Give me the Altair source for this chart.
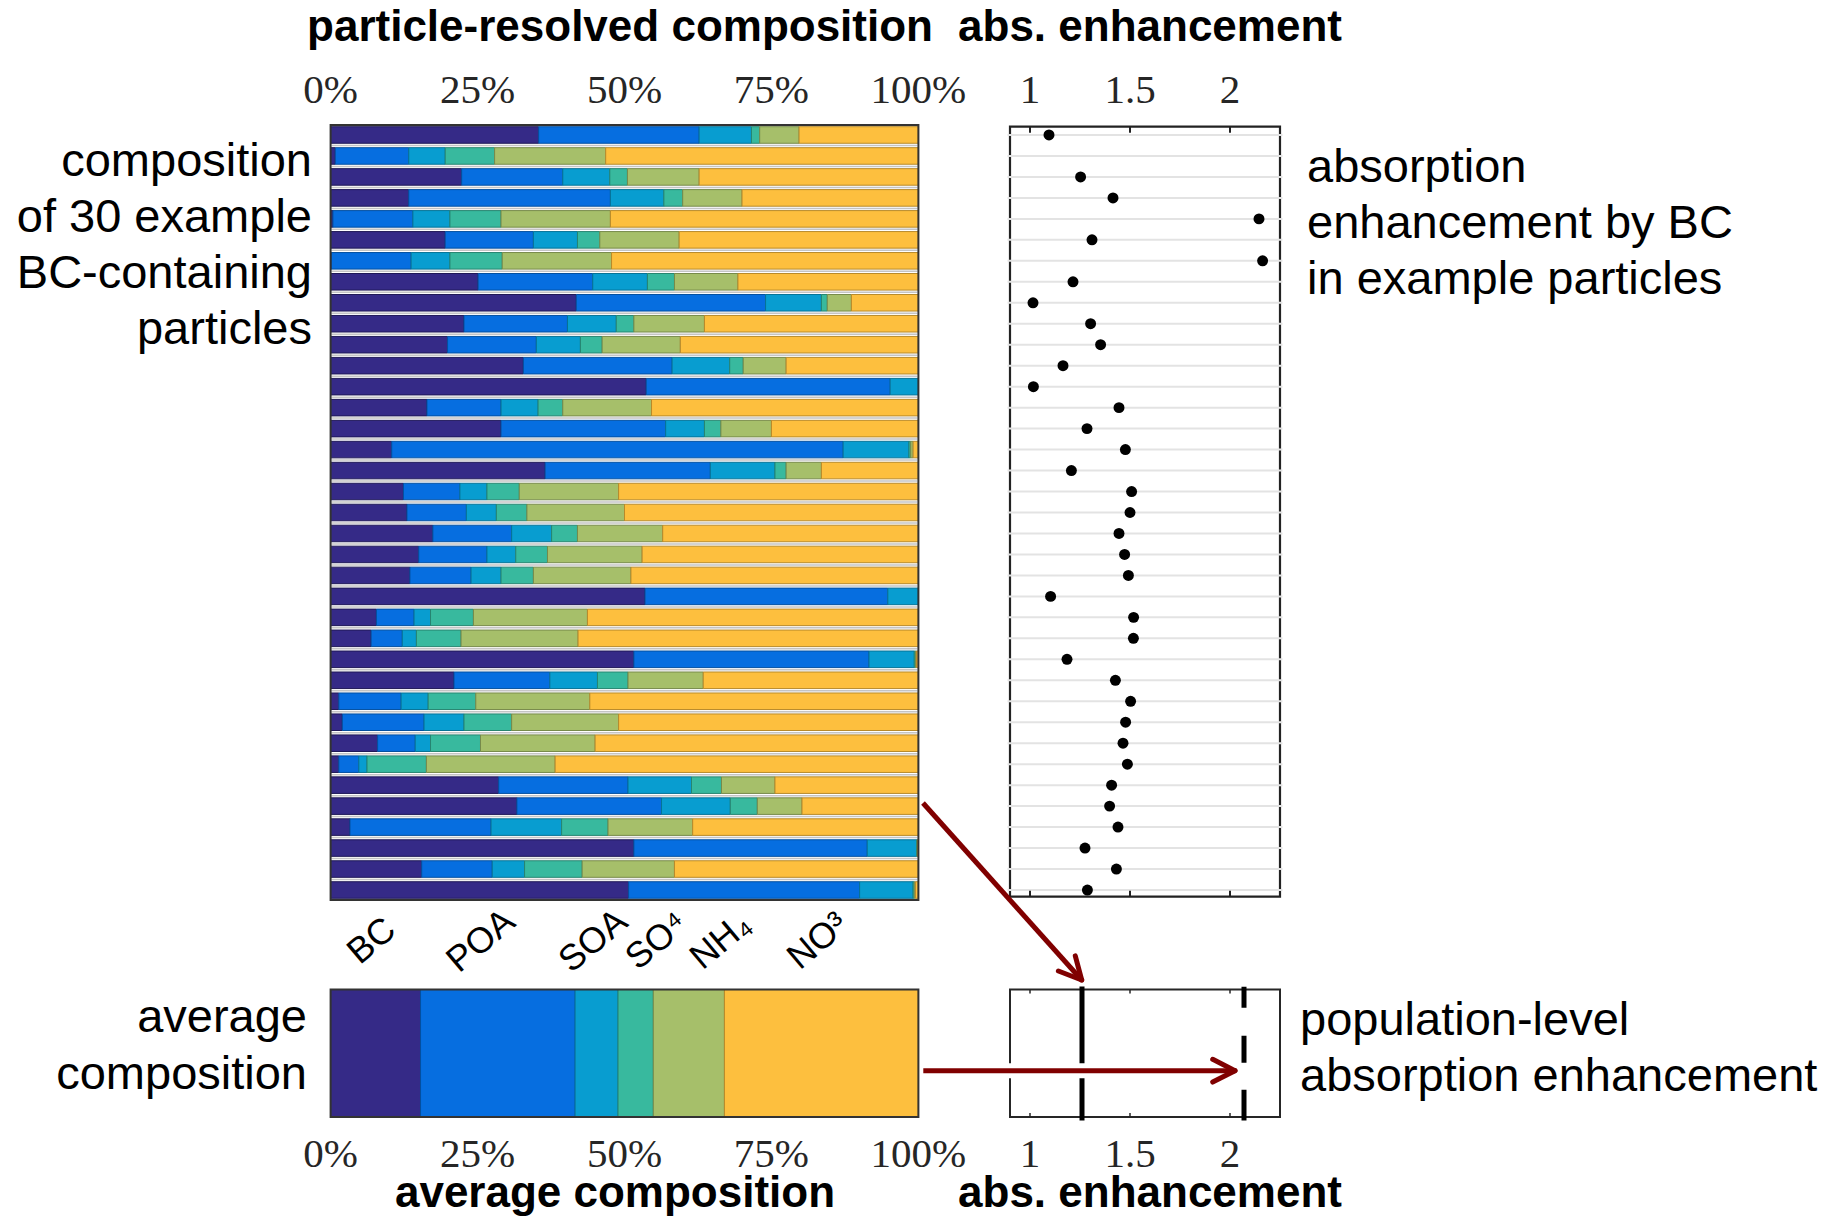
import math
import altair as alt
import pandas as pd

# ---------------- data ----------------
components = ["BC", "POA", "SOA", "SO4", "NH4", "NO3"]
component_labels = ["BC", "POA", "SOA", "SO\u2074", "NH\u2084", "NO\u00b3"]
fill_colors = ["#352a87", "#066ee0", "#089dd0", "#38b99e", "#a6bf6a", "#fdbf3e"]
edge_colors = ["#1f1857", "#0450a0", "#067396", "#278570", "#778a4a", "#b88a2a"]

particle_ids = list(range(1, 38))
bc = [0.354, 0.008, 0.223, 0.133, 0.004, 0.195, 0.001, 0.251, 0.418, 0.227,
      0.199, 0.328, 0.537, 0.164, 0.290, 0.104, 0.365, 0.124, 0.130, 0.174,
      0.150, 0.135, 0.535, 0.078, 0.069, 0.516, 0.210, 0.014, 0.020, 0.080,
      0.014, 0.286, 0.317, 0.033, 0.516, 0.155, 0.507]
poa = [0.273, 0.125, 0.172, 0.343, 0.136, 0.150, 0.136, 0.195, 0.322, 0.176,
       0.151, 0.253, 0.415, 0.126, 0.280, 0.768, 0.281, 0.096, 0.101, 0.134,
       0.116, 0.104, 0.413, 0.064, 0.053, 0.400, 0.163, 0.106, 0.139, 0.064,
       0.034, 0.220, 0.246, 0.240, 0.397, 0.120, 0.393]
soa = [0.089, 0.062, 0.080, 0.091, 0.063, 0.075, 0.066, 0.093, 0.095, 0.083,
       0.075, 0.098, 0.048, 0.063, 0.066, 0.112, 0.110, 0.046, 0.051, 0.068,
       0.049, 0.051, 0.052, 0.028, 0.024, 0.077, 0.081, 0.046, 0.068, 0.026,
       0.014, 0.108, 0.117, 0.120, 0.084, 0.055, 0.091]
so4 = [0.014, 0.084, 0.030, 0.032, 0.087, 0.038, 0.089, 0.046, 0.010, 0.030,
       0.037, 0.023, 0.0, 0.042, 0.028, 0.003, 0.019, 0.055, 0.052, 0.044,
       0.054, 0.055, 0.0, 0.073, 0.076, 0.002, 0.052, 0.081, 0.081, 0.085,
       0.101, 0.051, 0.046, 0.079, 0.001, 0.098, 0.002]
nh4 = [0.067, 0.189, 0.122, 0.101, 0.186, 0.135, 0.186, 0.108, 0.041, 0.120,
       0.133, 0.073, 0.0, 0.151, 0.086, 0.004, 0.060, 0.169, 0.166, 0.145,
       0.161, 0.166, 0.0, 0.194, 0.199, 0.002, 0.128, 0.194, 0.182, 0.195,
       0.219, 0.091, 0.076, 0.144, 0.001, 0.157, 0.002]
no3 = [0.203, 0.532, 0.373, 0.300, 0.524, 0.407, 0.522, 0.307, 0.114, 0.364,
       0.405, 0.225, 0.0, 0.454, 0.250, 0.009, 0.165, 0.510, 0.500, 0.435,
       0.470, 0.489, 0.0, 0.563, 0.579, 0.003, 0.366, 0.559, 0.510, 0.550,
       0.618, 0.244, 0.198, 0.384, 0.001, 0.415, 0.005]

avg_composition = [0.153, 0.263, 0.073, 0.060, 0.121, 0.330]

abs_enhancement = [1.095, None, 1.253, 1.415, 2.145, 1.310, 2.163, 1.215, 1.015, 1.303,
                   1.353, 1.165, 1.017, 1.445, 1.285, 1.477, 1.207, 1.508, 1.500, 1.445,
                   1.473, 1.492, 1.103, 1.518, 1.517, 1.185, 1.427, 1.503, 1.478, 1.465,
                   1.487, 1.408, 1.398, 1.440, 1.275, 1.432, 1.287]
pop_abs_particle_resolved = 1.26
pop_abs_average = 2.07

pct_ticks = [0, 0.25, 0.5, 0.75, 1.0]
pct_labels = ["0%", "25%", "50%", "75%", "100%"]
abs_ticks = [1.0, 1.5, 2.0]
abs_labels = ["1", "1.5", "2"]

# ---------------- layout ----------------
W, H = 1816, 1208
PX_BAR = [322.6, 910.4]
PX_ABS = [1002.0, 1272.0]
PY_ROWS = [116.5, 892.5]
BAR_FRAME_Y = [117.0, 892.0]
DOT_FRAME_Y = [118.7, 888.7]
AVG_Y = [981.5, 1109.0]
label_x = [0.070, 0.256, 0.447, 0.555, 0.664, 0.829]

SANS = "Liberation Sans, Arial, DejaVu Sans"
SERIF = "Liberation Serif, DejaVu Serif"
FRAME = "#333333"

x_bar = alt.Scale(domain=[0, 1], range=PX_BAR, nice=False, zero=False)
x_abs = alt.Scale(domain=[0.9, 2.25], range=PX_ABS, nice=False, zero=False)
y_row = alt.Scale(domain=[0.5, 37.5], range=PY_ROWS, nice=False, zero=False)
fill_scale = alt.Scale(domain=components, range=fill_colors)
edge_scale = alt.Scale(domain=components, range=edge_colors)

series = dict(zip(components, [bc, poa, soa, so4, nh4, no3]))
seg_rows = []
for i, pid in enumerate(particle_ids):
    for j, c in enumerate(components):
        v = series[c][i]
        if v > 0:
            seg_rows.append({"pid": pid, "comp": c, "order": j, "frac": v})
seg_df = pd.DataFrame(seg_rows)

avg_df = pd.DataFrame({"comp": components, "order": list(range(6)), "frac": avg_composition})
dot_df = pd.DataFrame({"pid": particle_ids, "abs": abs_enhancement}).dropna()
grid_df = pd.DataFrame({"pid": particle_ids})
sep_df = pd.DataFrame({"b": [p + 0.5 for p in particle_ids[:-1]]})
pct_df = pd.DataFrame({"v": pct_ticks, "lab": pct_labels})
abs_df = pd.DataFrame({"v": abs_ticks, "lab": abs_labels})
complab_df = pd.DataFrame({"x": label_x, "lab": component_labels})
pop_df = pd.DataFrame({"v": [pop_abs_particle_resolved]})
pop2_df = pd.DataFrame({"v": [pop_abs_average]})
base = pd.DataFrame({"k": [0]})


def frame(x0, x1, y0, y1, color=FRAME, w=2):
    return alt.Chart(base).mark_rect(fillOpacity=0, stroke=color, strokeWidth=w).encode(
        x=alt.value(x0), x2=alt.value(x1), y=alt.value(y0), y2=alt.value(y1))


def seg(x1, y1, x2, y2, color, w, cap="butt"):
    return alt.Chart(base).mark_rule(color=color, strokeWidth=w, strokeCap=cap).encode(
        x=alt.value(x1), y=alt.value(y1), x2=alt.value(x2), y2=alt.value(y2))


def arrow(x1, y1, x2, y2, color="#800000", w=5, head=25, half=27):
    L = math.hypot(x2 - x1, y2 - y1)
    bx, by = -(x2 - x1) / L, -(y2 - y1) / L
    out = [seg(x1, y1, x2, y2, color, w, "butt")]
    for s in (1, -1):
        a = math.radians(half) * s
        rx = bx * math.cos(a) - by * math.sin(a)
        ry = bx * math.sin(a) + by * math.cos(a)
        out.append(seg(x2, y2, x2 + head * rx, y2 + head * ry, color, w, "round"))
    return out


def text(x, y, t, size, align="left", weight="normal", font=SANS, line=None, color="black"):
    kw = dict(align=align, baseline="alphabetic", fontSize=size, font=font,
              fontWeight=weight, color=color)
    if line is not None:
        kw["lineHeight"] = line
    return alt.Chart(base).mark_text(**kw).encode(
        x=alt.value(x), y=alt.value(y), text=alt.value(t))


layers = []

# particle-resolved composition bars
layers.append(
    alt.Chart(seg_df).transform_stack(
        stack="frac", groupby=["pid"], sort=[alt.SortField("order")], as_=["x0", "x1"]
    ).transform_calculate(y0="datum.pid - 0.395", y1="datum.pid + 0.395")
    .mark_rect(strokeWidth=1)
    .encode(
        x=alt.X("x0:Q", scale=x_bar, axis=None), x2="x1:Q",
        y=alt.Y("y0:Q", scale=y_row, axis=None), y2="y1:Q",
        fill=alt.Fill("comp:N", scale=fill_scale, legend=None),
        stroke=alt.Stroke("comp:N", scale=edge_scale, legend=None),
    )
)
layers.append(
    alt.Chart(sep_df).mark_rule(color="#c4c4c4", strokeWidth=1.5).encode(
        y=alt.Y("b:Q", scale=y_row, axis=None),
        x=alt.value(PX_BAR[0] + 1), x2=alt.value(PX_BAR[1] - 1))
)
layers.append(frame(PX_BAR[0], PX_BAR[1], BAR_FRAME_Y[0], BAR_FRAME_Y[1]))

# top tick labels
layers.append(alt.Chart(pct_df).mark_text(font=SERIF, fontSize=41, color="#262626",
                                          baseline="alphabetic").encode(
    x=alt.X("v:Q", scale=x_bar, axis=None), y=alt.value(95), text="lab:N"))
layers.append(alt.Chart(abs_df).mark_text(font=SERIF, fontSize=41, color="#262626",
                                          baseline="alphabetic").encode(
    x=alt.X("v:Q", scale=x_abs, axis=None), y=alt.value(95), text="lab:N"))

# absorption enhancement dots
layers.append(frame(PX_ABS[0], PX_ABS[1], DOT_FRAME_Y[0], DOT_FRAME_Y[1], "#222222", 2.2))
layers.append(alt.Chart(grid_df).mark_rule(color="#e3e3e3", strokeWidth=2).encode(
    y=alt.Y("pid:Q", scale=y_row, axis=None),
    x=alt.value(PX_ABS[0] - 2.5), x2=alt.value(PX_ABS[1] + 2.5)))
layers.append(alt.Chart(abs_df).mark_rule(color="#222222", strokeWidth=2).encode(
    x=alt.X("v:Q", scale=x_abs, axis=None),
    y=alt.value(DOT_FRAME_Y[0]), y2=alt.value(DOT_FRAME_Y[0] + 6)))
layers.append(alt.Chart(abs_df).mark_rule(color="#222222", strokeWidth=2).encode(
    x=alt.X("v:Q", scale=x_abs, axis=None),
    y=alt.value(DOT_FRAME_Y[1] - 6), y2=alt.value(DOT_FRAME_Y[1])))
layers.append(alt.Chart(dot_df).mark_circle(size=120, color="black", opacity=1).encode(
    x=alt.X("abs:Q", scale=x_abs, axis=None),
    y=alt.Y("pid:Q", scale=y_row, axis=None)))

# component labels
layers.append(alt.Chart(complab_df).mark_text(font=SANS, fontSize=36, angle=320,
                                              align="center", baseline="middle",
                                              color="black").encode(
    x=alt.X("x:Q", scale=x_bar, axis=None), y=alt.value(933), text="lab:N"))

# average composition bar
layers.append(
    alt.Chart(avg_df).transform_stack(
        stack="frac", groupby=[], sort=[alt.SortField("order")], as_=["x0", "x1"]
    ).mark_rect(strokeWidth=1)
    .encode(
        x=alt.X("x0:Q", scale=x_bar, axis=None), x2="x1:Q",
        y=alt.value(AVG_Y[0]), y2=alt.value(AVG_Y[1]),
        fill=alt.Fill("comp:N", scale=fill_scale, legend=None),
        stroke=alt.Stroke("comp:N", scale=edge_scale, legend=None),
    )
)
layers.append(frame(PX_BAR[0], PX_BAR[1], AVG_Y[0], AVG_Y[1]))

# population-level abs. enhancement panel
layers.append(frame(PX_ABS[0], PX_ABS[1], AVG_Y[0], AVG_Y[1], "#262626", 2))
layers.append(alt.Chart(abs_df).mark_rule(color="#262626", strokeWidth=1.5).encode(
    x=alt.X("v:Q", scale=x_abs, axis=None),
    y=alt.value(AVG_Y[0]), y2=alt.value(AVG_Y[0] + 4)))
layers.append(alt.Chart(abs_df).mark_rule(color="#262626", strokeWidth=1.5).encode(
    x=alt.X("v:Q", scale=x_abs, axis=None),
    y=alt.value(AVG_Y[1] - 4), y2=alt.value(AVG_Y[1])))
layers.append(alt.Chart(pop_df).mark_rule(color="black", strokeWidth=5).encode(
    x=alt.X("v:Q", scale=x_abs, axis=None),
    y=alt.value(AVG_Y[0] - 3), y2=alt.value(AVG_Y[1] + 3.5)))
layers.append(alt.Chart(pop2_df).mark_rule(color="black", strokeWidth=5,
                                           strokeDash=[21, 28, 27, 27, 40, 10]).encode(
    x=alt.X("v:Q", scale=x_abs, axis=None),
    y=alt.value(AVG_Y[0] - 2.8), y2=alt.value(AVG_Y[1] + 3.5)))

# bottom tick labels
layers.append(alt.Chart(pct_df).mark_text(font=SERIF, fontSize=41, color="#262626",
                                          baseline="alphabetic").encode(
    x=alt.X("v:Q", scale=x_bar, axis=None), y=alt.value(1159), text="lab:N"))
layers.append(alt.Chart(abs_df).mark_text(font=SERIF, fontSize=41, color="#262626",
                                          baseline="alphabetic").encode(
    x=alt.X("v:Q", scale=x_abs, axis=None), y=alt.value(1159), text="lab:N"))

# arrows
layers.append(seg(996, 1062.7, 1090, 1062.7, "white", 15))
layers += arrow(915.3, 1062.7, 1227.0, 1062.7)
layers += arrow(915.0, 795.0, 1073.7, 972.0)

# titles and annotations
layers.append(text(612, 33, "particle-resolved composition", 44, "center", "bold"))
layers.append(text(1142, 33, "abs. enhancement", 44, "center", "bold"))
layers.append(text(607, 1199, "average composition", 44, "center", "bold"))
layers.append(text(1142, 1199, "abs. enhancement", 44, "center", "bold"))
layers.append(text(304, 167.5, ["composition", "of 30 example", "BC-containing", "particles"],
                   47, "right", line=56))
layers.append(text(1299, 173.5, ["absorption", "enhancement by BC", "in example particles"],
                   47, "left", line=56))
layers.append(text(299, 1024, ["average", "composition"], 47, "right", line=57))
layers.append(text(1292, 1027, ["population-level", "absorption enhancement"], 47, "left", line=56))

chart = alt.layer(*layers).resolve_scale(
    x="independent", y="independent"
).properties(
    width=W, height=H,
    autosize=alt.AutoSizeParams(type="none"),
    padding=0,
    background="white",
).configure_view(strokeWidth=0)

chart.save("out.html", embed_options={"renderer": "svg", "actions": False})
